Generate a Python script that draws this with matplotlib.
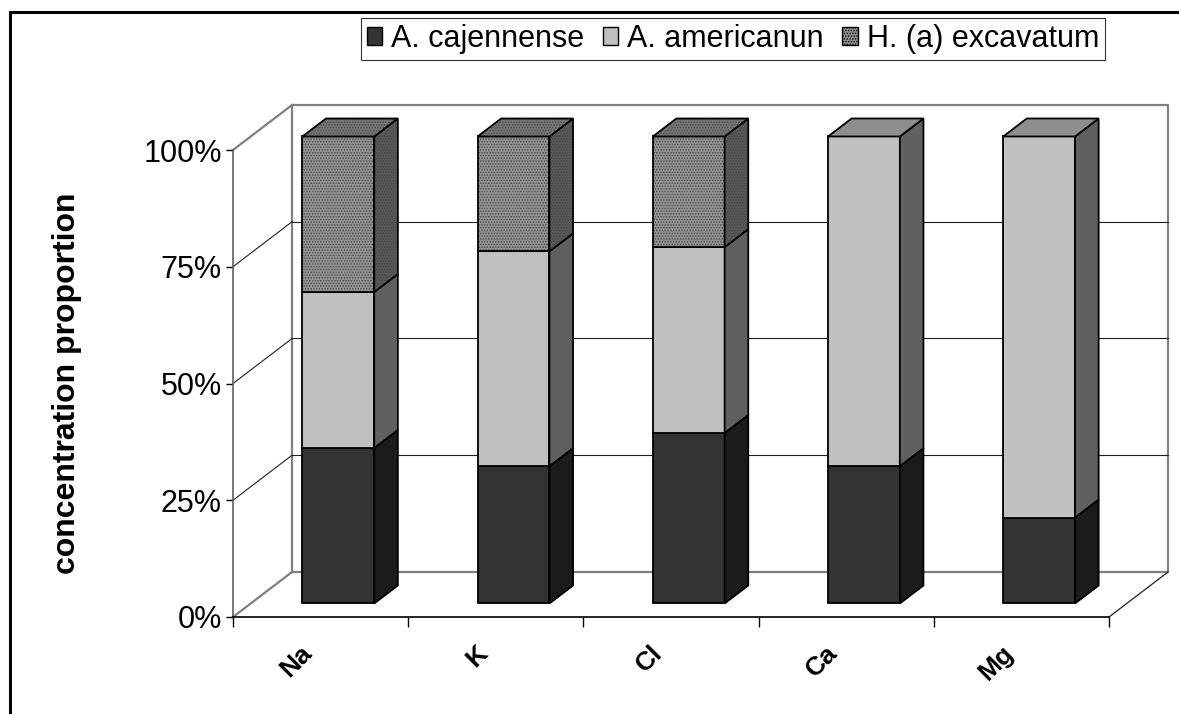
import matplotlib
matplotlib.use("Agg")
import matplotlib.pyplot as plt
from matplotlib.patches import Polygon, Patch
from matplotlib.lines import Line2D

plt.rcParams["font.family"] = ["Liberation Sans", "DejaVu Sans"]
plt.rcParams["hatch.linewidth"] = 0.7

# data (percent of each element)
elements = ["Na", "K", "Cl", "Ca", "Mg"]
series = ["A. cajennense", "A. americanun", "H. (a) excavatum"]
cajennense = [33.3, 29.4, 36.5, 29.4, 18.4]
americanun = [33.4, 46.0, 39.8, 70.6, 81.6]
excavatum = [33.3, 24.6, 23.7, 0.0, 0.0]
y_ticks = [0, 25, 50, 75, 100]
y_labels = ["0%", "25%", "50%", "75%", "100%"]

# face colours per series: front, side, top, hatch
styles = [
    dict(front="#333333", side="#1b1b1b", top="#2a2a2a", hatch=None, hc=None),
    dict(front="#c0c0c0", side="#606060", top="#8e8e8e", hatch=None, hc=None),
    dict(front="#929292", side="#585858", top="#767676", hatch="......", hc="#4a4a4a"),
]

# oblique depth vector in data units (category, percent)
DX, DY = 0.337, 9.64
BAR_W = 0.41
D0, D1 = 0.3, 0.7

W, H = 1179, 714
fig = plt.figure(figsize=(W / 100, H / 100), dpi=100)
# front plane: x=0 at px 233, x=5 at px 1109; 0% at py 617, 100% at py 150
x0, x5, y0, y100 = 233, 1109, 617, 150
ax = fig.add_axes([x0 / W, (H - y0) / H, (x5 - x0) / W, (y0 - y100) / H])
ax.set_xlim(0, 5)
ax.set_ylim(0, 100)
ax.patch.set_visible(False)
for s in ["top", "right"]:
    ax.spines[s].set_visible(False)

n = len(elements)

# back wall and side wall
wall = "#808080"
ax.plot([DX, DX, n + DX, n + DX, DX], [DY, 100 + DY, 100 + DY, DY, DY],
        color=wall, lw=1.6, clip_on=False, zorder=1)
ax.plot([0, DX], [100, 100 + DY], color=wall, lw=1.6, clip_on=False, zorder=1)
ax.plot([0, DX], [0, DY], color=wall, lw=1.6, clip_on=False, zorder=1)
for t in y_ticks[1:-1]:
    ax.plot([DX, n + DX], [t + DY, t + DY], color="#202020", lw=0.8, clip_on=False, zorder=1)
    ax.plot([0, DX], [t, t + DY], color="#202020", lw=0.8, clip_on=False, zorder=1)
# floor right edge
ax.plot([n, n + DX], [0, DY], color="#202020", lw=0.9, clip_on=False, zorder=1)

# axes look
ax.spines["left"].set_color("#606060")
ax.spines["left"].set_linewidth(1.2)
ax.spines["bottom"].set_color("black")
ax.spines["bottom"].set_linewidth(1.2)
ax.set_yticks(y_ticks)
ax.set_yticklabels(y_labels, fontsize=22)
ax.tick_params(axis="y", length=5, width=1, pad=3)
ax.set_xticks(range(n + 1))
ax.set_xticklabels([])
ax.tick_params(axis="x", length=7, width=1)

ax.set_ylabel("concentration proportion", fontsize=23, fontweight="bold", labelpad=44)

for i, name in enumerate(elements):
    ax.text(i + 0.5 - 0.07, -7.0, name, rotation=45, rotation_mode="anchor",
            ha="right", va="center", fontsize=19, fontweight="bold")


def face(pts, st, key, z):
    kw = dict(closed=True, facecolor=st[key], edgecolor="black", lw=1.3,
              joinstyle="miter", clip_on=False, zorder=z)
    if st["hatch"]:
        ax.add_patch(Polygon(pts, closed=True, facecolor=st[key], edgecolor=st["hc"],
                             lw=0, hatch=st["hatch"], clip_on=False, zorder=z))
        kw["facecolor"] = "none"
    ax.add_patch(Polygon(pts, **kw))


# bars
for i in range(n):
    vals = [cajennense[i], americanun[i], excavatum[i]]
    xl = i + 0.5 - BAR_W / 2 + D0 * DX
    xr = xl + BAR_W
    ox, oy = (D1 - D0) * DX, (D1 - D0) * DY
    base = D0 * DY
    bottom = 0.0
    top_idx = max(k for k, v in enumerate(vals) if v > 0)
    for k, v in enumerate(vals):
        if v <= 0:
            continue
        b, t = base + bottom, base + bottom + v
        st = styles[k]
        face([(xl, b), (xr, b), (xr, t), (xl, t)], st, "front", 3)
        face([(xr, b), (xr + ox, b + oy), (xr + ox, t + oy), (xr, t)], st, "side", 3)
        if k == top_idx:
            face([(xl, t), (xr, t), (xr + ox, t + oy), (xl + ox, t + oy)], st, "top", 3)
        bottom += v

# legend
handles = [Patch(facecolor=st["front"], edgecolor="black", hatch=st["hatch"], lw=1.0)
           for st in styles]
leg = fig.legend(handles, series, loc="center", ncol=3,
                 bbox_to_anchor=(733 / W, 1 - 39 / H), fontsize=22,
                 frameon=True, fancybox=False, edgecolor="black",
                 handlelength=0.5, handleheight=0.5, handletextpad=0.3,
                 columnspacing=0.6, borderpad=0.2, borderaxespad=0)
leg.get_frame().set_linewidth(0.8)

# outer frame (only top and left edges fall inside the picture)
fig.add_artist(Line2D([10 / W, 10 / W], [0, 1 - 12 / H], color="black", lw=2.2))
fig.add_artist(Line2D([10 / W, 1], [1 - 12 / H, 1 - 12 / H], color="black", lw=2.2))

fig.savefig("out.png", dpi=100, facecolor="white")
